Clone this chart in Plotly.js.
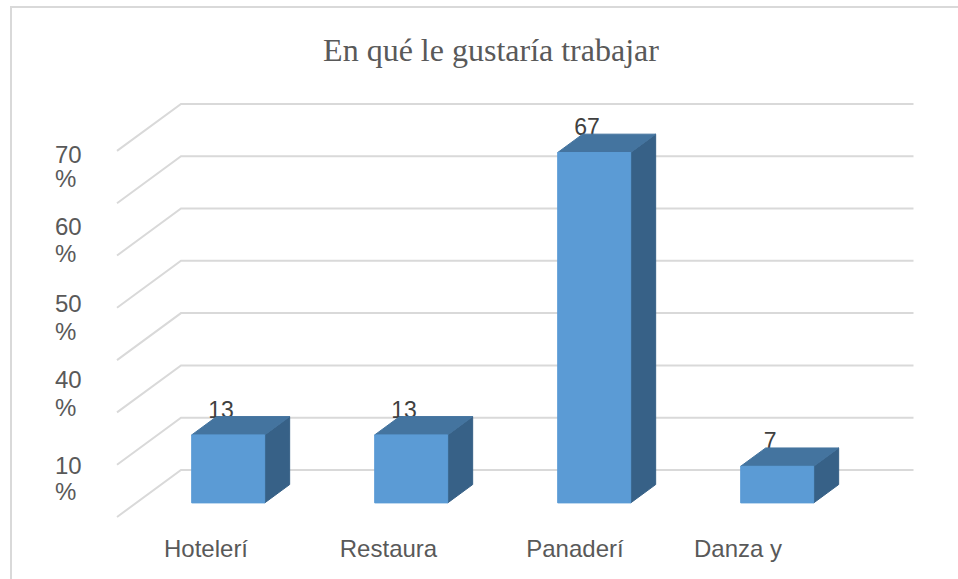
<!DOCTYPE html>
<html><head><meta charset="utf-8">
<script src="https://cdn.plot.ly/plotly-3.0.1.min.js"></script>
<style>html,body{margin:0;padding:0;background:#fff}#c{width:958px;height:579px}</style>
</head><body><div id="c"></div>
<script>
const categories = ['Hotelerí','Restaura','Panaderí','Danza y'];
const values = [13,13,67,7];
const dataLabels = ['13','13','67','7'];
const gridValues = [0,10,20,30,40,50,60,70];
const yTickPositions = [60.4,55.8,46.5,41.3,31.9,26.4,17.2,11.9,0.8,-4.2];
const yTickLabels = ['70','%','60','%','50','%','40','%','10','%'];
const xLabelPositions = [-0.366,0.631,1.650,2.541];

const DX = 64/183, DY = 47/5.23;        // wall-to-front shift, in axis units
const FRONT = 0.70, BACK = 0.31;        // bar depth on the floor
const HALF = 36.5/183;                  // half a bar width
const GRID_LEFT = -92/183, GRID_RIGHT = 640.5/183;
function P(x,v,d){ return [x - DX*d, v - DY*d]; }
function poly(pts,color){
  return {type:'scatter',mode:'lines',x:pts.map(p=>p[0]),y:pts.map(p=>p[1]),fill:'toself',fillcolor:color,
    line:{color:color,width:1},hoverinfo:'skip',showlegend:false};
}
const traces = [];
gridValues.forEach(v=>{
  traces.push({type:'scatter',mode:'lines',x:[GRID_LEFT-DX,GRID_LEFT,GRID_RIGHT],y:[v-DY,v,v],
    line:{color:'#d9d9d9',width:2},hoverinfo:'skip',showlegend:false});
});
traces.push({type:'scatter',mode:'text',x:values.map((v,i)=>i-0.284),y:values.map(v=>v-DY*FRONT+4.4),
  text:dataLabels,textposition:'middle center',textfont:{family:'Liberation Sans',size:23,color:'#404040'},
  hoverinfo:'skip',showlegend:false});
values.forEach((v,i)=>{
  const fl=P(i-HALF,0,FRONT), fr=P(i+HALF,0,FRONT), tl=P(i-HALF,v,FRONT), tr=P(i+HALF,v,FRONT);
  const btl=P(i-HALF,v,BACK), btr=P(i+HALF,v,BACK), bbr=P(i+HALF,0,BACK);
  traces.push(poly([fr,bbr,btr,tr,fr],'#376187'));
  traces.push(poly([tl,btl,btr,tr,tl],'#44749F'));
  traces.push(poly([fl,tl,tr,fr,fl],'#5B9BD5'));
});
// x axis: 0 is at back-wall pixel 273, 183px per category; y axis: 0 at 470, 5.23px per unit
const L=52,R=958,T=60,B=530;
const px=x=>(x-L)/(R-L), py=y=>(B-y)/(B-T);
const layout={
  width:958,height:579,paper_bgcolor:'#fff',plot_bgcolor:'rgba(0,0,0,0)',showlegend:false,
  margin:{l:L,r:958-R,t:T,b:579-B,pad:0},
  title:{text:'En qué le gustaría trabajar',x:491/958,xanchor:'center',y:1-50/579,yanchor:'middle',
    font:{family:'Liberation Serif',size:32,color:'#595959'}},
  xaxis:{range:[(L-273)/183,(R-273)/183],showgrid:false,zeroline:false,showline:false,ticks:'',
    tickvals:xLabelPositions,ticktext:categories,ticklabelstandoff:2,
    tickfont:{family:'Liberation Sans',size:24,color:'#595959'}},
  yaxis:{range:[(470-B)/5.23,(470-T)/5.23],showgrid:false,zeroline:false,showline:false,ticks:'',
    tickmode:'array',tickvals:yTickPositions,ticktext:yTickLabels,
    tickfont:{family:'Liberation Sans',size:24,color:'#595959'},automargin:false,ticklabelposition:'inside'},
  shapes:[
    {type:'line',xref:'paper',yref:'paper',x0:px(11),x1:px(11),y0:py(579),y1:py(7),line:{color:'#d9d9d9',width:2}},
    {type:'line',xref:'paper',yref:'paper',x0:px(10),x1:px(958),y0:py(7),y1:py(7),line:{color:'#d9d9d9',width:2}}
  ]
};
Plotly.newPlot('c',traces,layout,{displayModeBar:false,staticPlot:true});
</script></body></html>
